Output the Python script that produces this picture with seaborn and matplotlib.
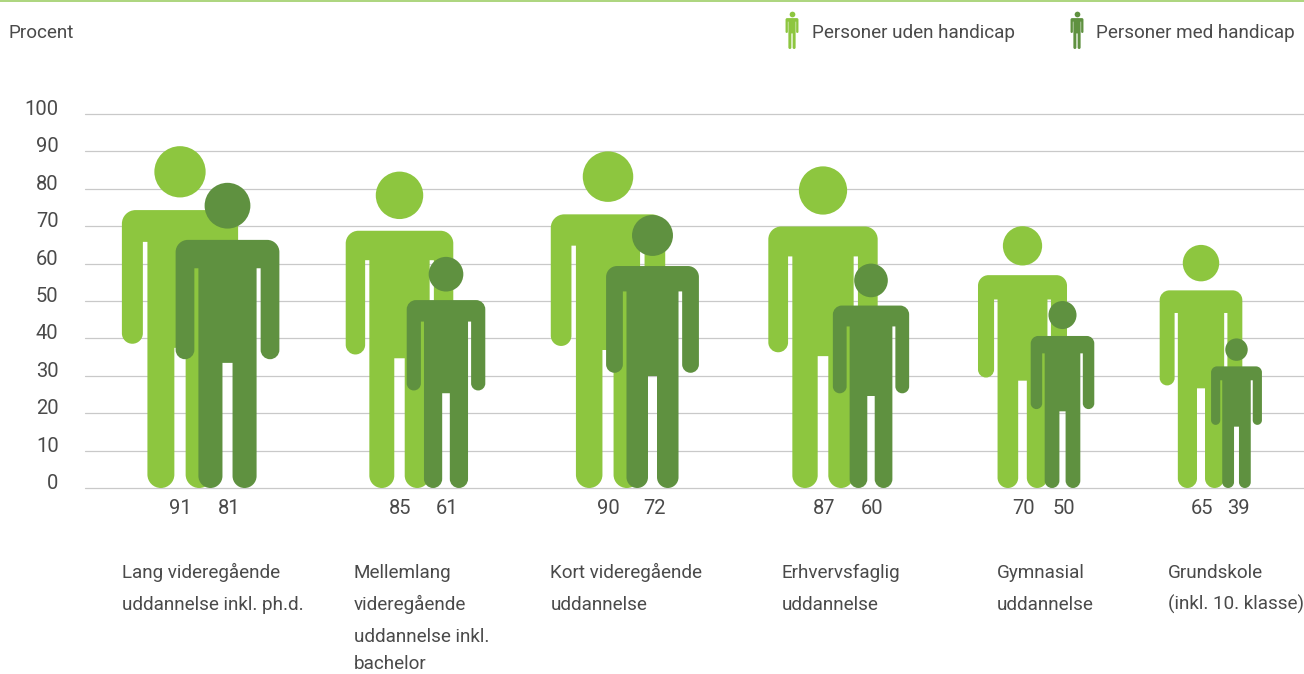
import numpy as np
import pandas as pd
import seaborn as sns
import matplotlib
matplotlib.use("Agg")
import matplotlib.pyplot as plt
from matplotlib.path import Path
from matplotlib.patches import PathPatch
from matplotlib.lines import Line2D
from matplotlib.transforms import ScaledTranslation

# ---- data ----
categories = [
    "Lang videregående\nuddannelse inkl. ph.d.",
    "Mellemlang\nvideregående\nuddannelse inkl.\nbachelor",
    "Kort videregående\nuddannelse",
    "Erhvervsfaglig\nuddannelse",
    "Gymnasial\nuddannelse",
    "Grundskole\n(inkl. 10. klasse)",
]
uden_handicap = [91, 85, 90, 87, 70, 65]
med_handicap = [81, 61, 72, 60, 50, 39]
# height of each pictogram as read against the gridlines
uden_height = [91.4, 84.6, 90, 86, 70, 65]
med_height = [81.6, 61.8, 73, 60, 50, 40]
series_names = ["Personer uden handicap", "Personer med handicap"]
y_ticks = list(range(0, 101, 10))
y_axis_title = "Procent"

# ---- layout (pixels of the 1304x674 canvas) ----
W, H = 1304, 674
DPI = 100
AX_L, AX_R, AX_TOP, AX_BOT = 85, 1304, 114, 488
PX_PER_UNIT = (AX_BOT - AX_TOP) / 100
uden_x = [180, 399.5, 608, 823, 1022.5, 1201]
med_x = [227.5, 446, 652.5, 871, 1062.5, 1236.5]
cat_x = [122, 354, 551, 782, 997, 1168]
LIGHT, DARK = "#8DC63F", "#5F9140"
TXT = "#4a4a4a"

sns.set_theme(style="white")
plt.rcParams["font.family"] = ["Roboto", "DejaVu Sans"]
plt.rcParams["font.weight"] = "normal"

fig = plt.figure(figsize=(W / DPI, H / DPI), dpi=DPI, facecolor="white")
ax = fig.add_axes([AX_L / W, (H - AX_BOT) / H, (AX_R - AX_L) / W, (AX_BOT - AX_TOP) / H])
ax.set_xlim(AX_L, AX_R)
ax.set_ylim(0, 100)
ax.set_axisbelow(True)
ax.set_yticks(y_ticks)
ax.set_xticks([])
ax.grid(axis="y", color="#c9c9c9", lw=0.9)
for gl in ax.get_ygridlines():
    gl.set_clip_on(False)
ax.tick_params(axis="y", length=0, pad=19, labelsize=14.5, labelcolor=TXT)
sns.despine(ax=ax, left=True, bottom=True)
lift = ScaledTranslation(0, 6.5 / DPI, fig.dpi_scale_trans)
for lab in ax.get_yticklabels():
    lab.set_transform(lab.get_transform() + lift)

# person proportions, as fractions of the person's height
HALF_W, SHOULDER, ARM_W, ARM_END, ARMPIT = 0.170, 0.813, 0.0614, 0.422, 0.720
TORSO, CROTCH, HALF_GAP, HEAD = 0.0953, 0.410, 0.0165, 0.150


def rounded_path(pts):
    """pts: (u, v, r) closed polygon, corners rounded with radius r."""
    verts, codes = [], []
    n = len(pts)
    k = 0.5523
    for i, (x, y, r) in enumerate(pts):
        p = np.array([x, y], float)
        a = np.array(pts[i - 1][:2], float)
        b = np.array(pts[(i + 1) % n][:2], float)
        if r <= 0:
            verts.append(p)
            codes.append(Path.LINETO)
            continue
        d1 = (a - p) / np.linalg.norm(a - p)
        d2 = (b - p) / np.linalg.norm(b - p)
        s, e = p + d1 * r, p + d2 * r
        verts += [s, s + (p - s) * k, e + (p - e) * k, e]
        codes += [Path.LINETO, Path.CURVE4, Path.CURVE4, Path.CURVE4]
    codes[0] = Path.MOVETO
    verts.append(verts[0])
    codes.append(Path.CLOSEPOLY)
    return np.array(verts), codes


leg_r = (TORSO - HALF_GAP) / 2 - 1e-4
arm_r = ARM_W / 2 - 1e-4
right = [
    (HALF_W, SHOULDER, 0.04),
    (HALF_W, ARM_END, arm_r),
    (HALF_W - ARM_W, ARM_END, arm_r),
    (HALF_W - ARM_W, ARMPIT, 0),
    (TORSO, ARMPIT, 0),
    (TORSO, 0, leg_r),
    (HALF_GAP, 0, leg_r),
    (HALF_GAP, CROTCH, 0),
]
left = [(-u, v, r) for u, v, r in reversed(right)]
BODY_V, BODY_C = rounded_path(right + left)


def draw_body(cx, value, color, z, base=0.0):
    """Draw a body of height `value` on the y scale, width scaled the same way."""
    v = BODY_V * value
    v = np.column_stack([cx + v[:, 0] * PX_PER_UNIT, base + v[:, 1]])
    ax.add_patch(PathPatch(Path(v, BODY_C), fc=color, ec="none", lw=0, zorder=z, clip_on=False))


def draw_heads(xs, values, color, z, base=0.0):
    vals = np.asarray(values, float)
    frame = pd.DataFrame({"x": xs, "y": base + vals * (1 - HEAD / 2)})
    dia_pt = vals * PX_PER_UNIT * HEAD * 72 / DPI
    sns.scatterplot(data=frame, x="x", y="y", ax=ax, color=color, s=dia_pt ** 2,
                    linewidth=0, alpha=1, zorder=z, clip_on=False, legend=False)


for cx, val in zip(uden_x, uden_height):
    draw_body(cx, val, LIGHT, 3)
draw_heads(uden_x, uden_height, LIGHT, 4)
for cx, val in zip(med_x, med_height):
    draw_body(cx, val, DARK, 5)
draw_heads(med_x, med_height, DARK, 6)


def to_fig(px, py):
    return px / W, 1 - py / H


# value labels
for xs, vals, off in ((uden_x, uden_handicap, 0.7), (med_x, med_handicap, 1.5)):
    for cx, val in zip(xs, vals):
        fig.text(*to_fig(cx + off, 513.5), str(val), ha="center", va="baseline",
                 fontsize=14.5, color=TXT)

# category labels (the fourth line sits a little higher so it stays inside the canvas)
line_y = [577.5, 609.5, 641.5, 669]
for cx, name in zip(cat_x, categories):
    for i, line in enumerate(name.split("\n")):
        fig.text(*to_fig(cx - 0.5, line_y[i]), line, ha="left", va="baseline",
                 fontsize=13.6, color=TXT)

# title / legend row
fig.text(*to_fig(8.5, 38), y_axis_title, ha="left", va="baseline", fontsize=13.6, color=TXT)
ICON = 38 / PX_PER_UNIT
icon_base = (AX_BOT - 49) / PX_PER_UNIT
for cx, tx, col, name, z in ((792, 812, LIGHT, series_names[0], 3),
                             (1077, 1096, DARK, series_names[1], 5)):
    draw_body(cx, ICON, col, z, base=icon_base)
    draw_heads([cx], [ICON], col, z + 1, base=icon_base)
    fig.text(*to_fig(tx, 37.5), name, ha="left", va="baseline", fontsize=13.6, color=TXT)
ax.set_xlim(AX_L, AX_R)
ax.set_ylim(0, 100)
ax.set_xlabel("")
ax.set_ylabel("")

# green rule at the top edge
fig.add_artist(Line2D([0, 1], [1 - 0.8 / H] * 2, transform=fig.transFigure,
                      color="#A6D273", lw=1.3))

fig.savefig("out.png", dpi=DPI, facecolor="white")
